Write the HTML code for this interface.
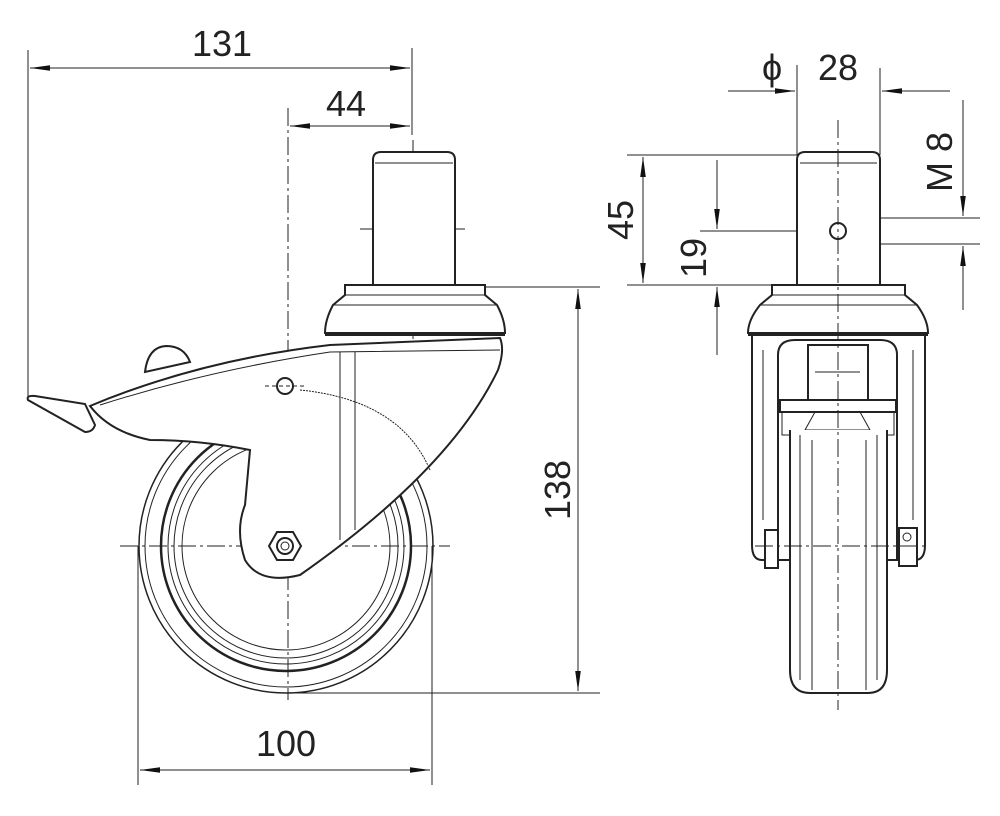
<!DOCTYPE html>
<html><head><meta charset="utf-8"><style>
html,body{margin:0;padding:0;background:#fff;}
svg{display:block}
text{font-family:"Liberation Sans",sans-serif;font-size:36px;fill:#222;}
</style></head><body>
<svg width="1000" height="816" viewBox="0 0 1000 816" xmlns="http://www.w3.org/2000/svg">
<defs>
<marker id="a" viewBox="0 0 10 10" preserveAspectRatio="none" refX="10" refY="5" markerWidth="20" markerHeight="7" markerUnits="userSpaceOnUse" orient="auto-start-reverse"><path d="M0,1 L10,5 L0,9z" fill="#111"/></marker>
</defs>
<g stroke="#222" fill="none" stroke-width="1">
<line x1="28" y1="50" x2="28" y2="400"/>
<line x1="412" y1="48" x2="412" y2="135"/>
<line x1="30" y1="68" x2="410" y2="68" marker-start="url(#a)" marker-end="url(#a)"/>
<line x1="290" y1="126" x2="410" y2="126" marker-start="url(#a)" marker-end="url(#a)"/>
<line x1="288" y1="108" x2="288" y2="700" stroke-dasharray="18,4,3,4"/>
<line x1="413" y1="140" x2="413" y2="370" stroke-dasharray="18,4,3,4"/>
<line x1="360" y1="229" x2="468" y2="229" stroke-dasharray="18,4,3,4"/>
<line x1="485" y1="287" x2="600" y2="287"/>
<line x1="290" y1="693" x2="600" y2="693"/>
<line x1="578" y1="289" x2="578" y2="691" marker-start="url(#a)" marker-end="url(#a)"/>
<line x1="138" y1="546" x2="138" y2="785"/>
<line x1="432" y1="546" x2="432" y2="785"/>
<line x1="140" y1="770" x2="430" y2="770" marker-start="url(#a)" marker-end="url(#a)"/>
<line x1="120" y1="546" x2="450" y2="546" stroke-dasharray="18,4,3,4"/>
<circle cx="286" cy="546" r="147" stroke-width="1.5"/>
<circle cx="286" cy="546" r="141"/>
<circle cx="286" cy="546" r="125" stroke-width="2.5"/>
<circle cx="286" cy="546" r="118"/>
<circle cx="286" cy="546" r="112"/>
<circle cx="286" cy="546" r="104"/>
<path d="M373,285 V160 Q373,152 381,152 H447 Q455,152 455,160 V285" fill="#fff" stroke-width="2"/>
<line x1="375" y1="163" x2="453" y2="163"/>
<path d="M145,372 Q148,347 166,346 Q184,346 190,362 Z" fill="#fff" stroke-width="2"/>
<path d="M90,406 Q200,360 330,345 L500,338 Q505,350 498,370 Q450,470 300,575 Q260,585 245,560 Q235,530 245,505 L250,450 Q200,440 150,440 Q110,432 90,406z" fill="#fff" stroke-width="2"/>
<path d="M100,405 Q210,370 330,352 L500,350" />
<line x1="340" y1="352" x2="340" y2="540"/>
<line x1="355" y1="352" x2="355" y2="530"/>
<path d="M300,390 Q400,400 430,470" stroke-dasharray="2,1"/>
<path d="M28,400 Q26,395 35,396 L85,404 L95,425 Q93,432 85,432 Z" fill="#fff" stroke-width="2"/>
<path d="M345,285 H485 V295 L497,305 Q505,320 505,333 H325 Q325,320 333,305 L345,295Z" fill="#fff" stroke-width="2"/>
<line x1="345" y1="295" x2="485" y2="295"/>
<line x1="333" y1="305" x2="497" y2="305"/>
<line x1="325" y1="335" x2="505" y2="335" stroke-width="2"/>
<circle cx="285" cy="386" r="8" stroke-width="2" fill="#fff"/>
<line x1="265" y1="386" x2="305" y2="386" stroke-dasharray="4,3"/>
<polygon points="269,546 277,532 293,532 301,546 293,560 277,560" fill="#fff" stroke-width="2"/>
<circle cx="285" cy="546" r="8" stroke-width="2"/>
<circle cx="285" cy="546" r="4"/>
<line x1="728" y1="91" x2="795" y2="91" marker-end="url(#a)"/>
<line x1="950" y1="91" x2="882" y2="91" marker-end="url(#a)"/>
<line x1="797" y1="65" x2="797" y2="155"/>
<line x1="880" y1="68" x2="880" y2="155"/>
<line x1="627" y1="155" x2="797" y2="155"/>
<line x1="627" y1="285" x2="797" y2="285"/>
<line x1="643" y1="157" x2="643" y2="283" marker-start="url(#a)" marker-end="url(#a)"/>
<line x1="700" y1="231" x2="850" y2="231"/>
<line x1="717" y1="160" x2="717" y2="229" marker-end="url(#a)"/>
<line x1="717" y1="355" x2="717" y2="287" marker-end="url(#a)"/>
<line x1="845" y1="218" x2="980" y2="218"/>
<line x1="845" y1="244" x2="980" y2="244"/>
<line x1="963" y1="100" x2="963" y2="216" marker-end="url(#a)"/>
<line x1="963" y1="310" x2="963" y2="246" marker-end="url(#a)"/>
<path d="M752,335 H925 V545 Q925,560 915,560 H762 Q752,560 752,545Z" fill="#fff" stroke-width="2"/>
<line x1="763" y1="350" x2="763" y2="520"/>
<line x1="913" y1="350" x2="913" y2="520"/>
<path d="M778,560 V355 Q778,340 795,340 H880 Q897,340 897,355 V560" stroke-width="2"/>
<rect x="808" y="345" width="60" height="55" stroke-width="2" fill="#fff"/>
<line x1="815" y1="372" x2="860" y2="372"/>
<rect x="780" y="400" width="116" height="12" fill="#fff" stroke-width="2"/>
<path d="M782,412 H894 V435 H782Z"/>
<path d="M805,430 L815,412 H860 L870,430Z"/>
<path d="M790,430 V670 Q790,693 810,693 H868 Q887,693 887,670 V430" fill="#fff" stroke-width="2"/>
<line x1="800" y1="435" x2="800" y2="680"/>
<line x1="877" y1="435" x2="877" y2="680"/>
<line x1="812" y1="440" x2="812" y2="690"/>
<line x1="866" y1="440" x2="866" y2="690"/>
<rect x="765" y="530" width="13" height="38" stroke-width="2" fill="#fff"/>
<rect x="899" y="528" width="18" height="38" stroke-width="2" fill="#fff"/>
<circle cx="907" cy="537" r="4"/>
<line x1="755" y1="546" x2="925" y2="546" stroke-dasharray="18,4,3,4"/>
<path d="M797,285 V160 Q797,152 805,152 H872 Q880,152 880,160 V285" fill="#fff" stroke-width="2"/>
<line x1="800" y1="163" x2="877" y2="163"/>
<circle cx="838" cy="231" r="8" stroke-width="2" fill="#fff"/>
<path d="M772,285 H905 V295 L917,305 Q928,320 928,333 H748 Q748,320 760,305 L772,295Z" fill="#fff" stroke-width="2"/>
<line x1="772" y1="295" x2="905" y2="295"/>
<line x1="760" y1="305" x2="917" y2="305"/>
<line x1="748" y1="335" x2="928" y2="335" stroke-width="2"/>
<line x1="838" y1="120" x2="838" y2="710" stroke-dasharray="18,4,3,4"/>
</g>
<g>
<text x="222" y="56" text-anchor="middle">131</text>
<text x="346" y="116" text-anchor="middle">44</text>
<text x="286" y="756" text-anchor="middle">100</text>
<text transform="translate(570,490) rotate(-90)" text-anchor="middle">138</text>
<text x="762" y="80">ϕ</text>
<text x="838" y="80" text-anchor="middle">28</text>
<text transform="translate(633,220) rotate(-90)" text-anchor="middle">45</text>
<text transform="translate(706,258) rotate(-90)" text-anchor="middle">19</text>
<text transform="translate(952,162) rotate(-90)" text-anchor="middle">M 8</text>
</g>
</svg>
</body></html>
